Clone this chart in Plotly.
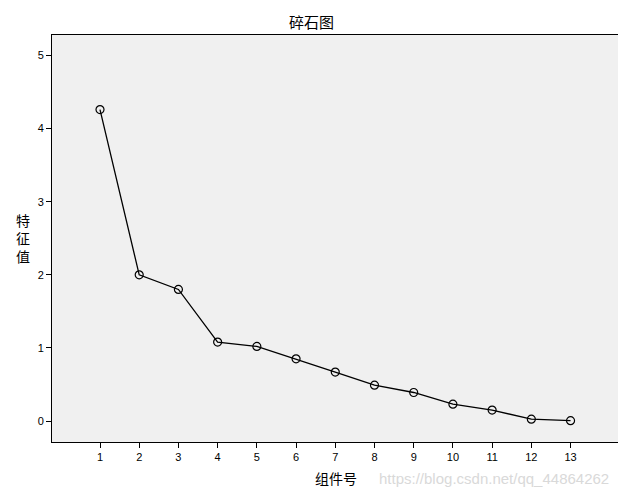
import plotly.graph_objects as go

components = [1, 2, 3, 4, 5, 6, 7, 8, 9, 10, 11, 12, 13]
eigenvalues = [4.26, 2.00, 1.80, 1.08, 1.02, 0.85, 0.67, 0.49, 0.39, 0.23, 0.15, 0.025, 0.005]
x_ticks = components
y_ticks = [0, 1, 2, 3, 4, 5]

title_text = "碎石图"
x_title = "组件号"
y_title = "特征值"
watermark = "https://blog.csdn.net/qq_44864262"

# page has an 8px body margin; build figure so that page pixels match reference
OFF = 8
W, H = 626 - OFF, 501 - OFF
L, R, T, B = 52 - OFF, 8, 35 - OFF, 59
pw, ph = W - L - R, H - T - B


def px(x):
    return (x - OFF - L) / pw


def py(y):
    return (H - (y - OFF) - B) / ph


fig = go.Figure()
fig.add_trace(go.Scatter(
    x=components, y=eigenvalues, mode="lines+markers",
    line=dict(color="black", width=1.3),
    marker=dict(symbol="circle-open", size=8, color="black", line=dict(width=1.2)),
    showlegend=False, hoverinfo="x+y",
))

axis_font = dict(family="Liberation Sans, Arial, sans-serif", size=11, color="black")
cjk = "Noto Sans CJK SC"
fig.update_layout(
    width=W, height=H,
    margin=dict(l=L, r=R, t=T, b=B),
    paper_bgcolor="white", plot_bgcolor="#f0f0f0",
    xaxis=dict(range=[-0.224, 14.21], tickvals=x_ticks, ticks="outside", ticklen=5,
               tickcolor="black", showgrid=False, zeroline=False, showline=True,
               linecolor="black", linewidth=1, mirror=True, tickfont=axis_font),
    yaxis=dict(range=[-0.287, 5.28], tickvals=y_ticks, ticks="outside", ticklen=5,
               tickcolor="black", showgrid=False, zeroline=False, showline=True,
               linecolor="black", linewidth=1, mirror=True, tickfont=axis_font),
    annotations=[
        dict(text=title_text, x=px(311), y=py(22), xref="paper", yref="paper", showarrow=False,
             xanchor="center", yanchor="middle",
             font=dict(family=cjk, size=15, color="black")),
        dict(text=x_title, x=px(336), y=py(478), xref="paper", yref="paper", showarrow=False,
             xanchor="center", yanchor="middle",
             font=dict(family=cjk, size=14, color="black")),
        dict(text="<br>".join(y_title), x=px(23), y=py(238), xref="paper", yref="paper",
             showarrow=False, xanchor="center", yanchor="middle",
             font=dict(family=cjk, size=14, color="black")),
        dict(text=watermark, x=px(494), y=py(478), xref="paper", yref="paper", showarrow=False,
             xanchor="center", yanchor="middle",
             font=dict(family="Liberation Sans, Arial, sans-serif", size=15, color="#d9d9d9")),
    ],
)

fig.write_html("out.html")
